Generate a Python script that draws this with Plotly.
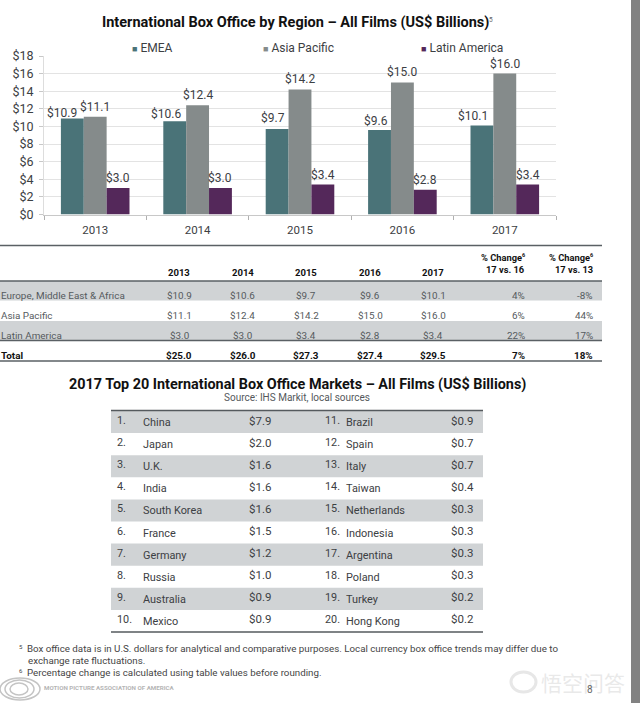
import plotly.graph_objects as go

W, H = 640, 703
FONT = "Roboto"
TXT = "#3c4043"
BLACK = "#111111"
TEAL, GREY, PURPLE = "#4a7378", "#858b8b", "#54285a"
ROW = "#d0d3d5"
LINE = "#5a6064"

years = ["2013", "2014", "2015", "2016", "2017"]
emea = [10.9, 10.6, 9.7, 9.6, 10.1]
asia = [11.1, 12.4, 14.2, 15.0, 16.0]
latam = [3.0, 3.0, 3.4, 2.8, 3.4]
totals = [25.0, 26.0, 27.3, 27.4, 29.5]

region_names = ["Europe, Middle East & Africa", "Asia Pacific", "Latin America", "Total"]
chg_1716 = ["4%", "6%", "22%", "7%"]
chg_1713 = ["-8%", "44%", "17%", "18%"]

mk_left = ["China", "Japan", "U.K.", "India", "South Korea", "France", "Germany", "Russia", "Australia", "Mexico"]
val_left = [7.9, 2.0, 1.6, 1.6, 1.6, 1.5, 1.2, 1.0, 0.9, 0.9]
mk_right = ["Brazil", "Spain", "Italy", "Taiwan", "Netherlands", "Indonesia", "Argentina", "Poland", "Turkey", "Hong Kong"]
val_right = [0.9, 0.7, 0.7, 0.4, 0.3, 0.3, 0.3, 0.3, 0.2, 0.2]

px = lambda x: x / W
py = lambda y: 1 - y / H
ann = []
shp = []


def T(x, y, s, size=10.5, color=TXT, anchor="left", bold=False, family=FONT):
    ann.append(dict(xref="paper", yref="paper", x=px(x), y=py(y), text=f"<b>{s}</b>" if bold else s,
                    showarrow=False, xanchor=anchor, yanchor="middle",
                    font=dict(size=size, color=color, family=family), borderpad=0, borderwidth=0))


def R(x0, y0, x1, y1, color, layer="below"):
    shp.append(dict(type="rect", xref="paper", yref="paper", x0=px(x0), x1=px(x1), y0=py(y0), y1=py(y1),
                    fillcolor=color, line_width=0, layer=layer))


def L(x0, x1, y, color=LINE, w=1.5):
    shp.append(dict(type="line", xref="paper", yref="paper", x0=px(x0), x1=px(x1), y0=py(y), y1=py(y),
                    line=dict(color=color, width=w)))


fig = go.Figure()
xs = list(range(len(years)))
for name, vals, col in [("EMEA", emea, TEAL), ("Asia Pacific", asia, GREY), ("Latin America", latam, PURPLE)]:
    fig.add_trace(go.Bar(x=xs, y=vals, name=name, marker=dict(color=col, line_width=0), showlegend=False))

# bar value labels
emea_dx = [-10, -8.5, -4, -3.5, -9]
emea_dy = [-3, -2, 2, 0, 1]
for i in xs:
    ann.append(dict(xref="x", yref="y", x=i - 0.223, y=emea[i], text=f"${emea[i]:.1f}", showarrow=False,
                    xanchor="center", yanchor="bottom", xshift=emea_dx[i], yshift=emea_dy[i],
                    font=dict(size=12, color=TXT, family=FONT)))
    ann.append(dict(xref="x", yref="y", x=i, y=asia[i], text=f"${asia[i]:.1f}", showarrow=False,
                    xanchor="center", yanchor="bottom", yshift=1,
                    font=dict(size=12, color=TXT, family=FONT)))
    ann.append(dict(xref="x", yref="y", x=i + 0.223, y=latam[i], text=f"${latam[i]:.1f}", showarrow=False,
                    xanchor="center", yanchor="bottom", yshift=1,
                    font=dict(size=12, color=TXT, family=FONT)))

# titles
T(295, 22, "International Box Office by Region – All Films (US$ Billions)", 14.5, BLACK, "center", True)
T(489, 20, "5", 6.5, "#666666")
T(297, 384, "2017 Top 20 International Box Office Markets – All Films (US$ Billions)", 14.4, BLACK, "center", True)
T(297, 397.5, "Source: IHS Markit, local sources", 10, "#55595c", "center")

# legend
for x, s, c in [(132, "EMEA", TEAL), (263, "Asia Pacific", GREY), (421, "Latin America", PURPLE)]:
    T(x, 48, f'<span style="color:{c};font-size:9px">■</span> {s}', 12)

# regional table
cols = [179, 242.5, 306, 370, 433]
L(0, 602, 245.5)
L(0, 602, 281)
L(0, 602, 340.5)
L(0, 602, 361)
R(0, 281, 602, 300.5, ROW)
R(0, 321, 602, 340, ROW)
for cx, y in zip(cols, years):
    T(cx, 272, y, 9.5, BLACK, "center", True)
for xr, lbl in [(525, "17 vs. 16"), (593, "17 vs. 13")]:
    T(xr - 3, 257, "% Change", 9.3, BLACK, "right", True)
    T(xr - 3, 255, "6", 5.5, BLACK, "left", True)
    T(xr, 269, lbl, 9.3, BLACK, "right", True)
rows_tbl = [emea, asia, latam, totals]
for r, (rname, vals) in enumerate(zip(region_names, rows_tbl)):
    y = 295.5 + r * 20
    b = r == 3
    c = BLACK if b else "#555a5d"
    T(1, y, rname, 9.9, c, "left", b)
    for cx, v in zip(cols, vals):
        T(cx, y, f"${v:.1f}", 9.9, c, "center", b)
    T(525, y, chg_1716[r], 9.9, c, "right", b)
    T(593, y, chg_1713[r], 9.9, c, "right", b)

# top 20 table
L(111, 483, 410.5, "#555a5e", 1.5)
L(111, 483, 632, "#555a5e", 1.5)
for r in range(10):
    top = 411 + r * 22.1
    if r % 2 == 0:
        R(111, top, 483, top + 22.1, ROW)
    y = top + 10.5
    T(117, y - 1, f"{r + 1}.", 10.8, TXT)
    T(143, y + 1, mk_left[r], 10.9, TXT)
    T(249, y - 1, f"${val_left[r]:.1f}", 11.5, TXT)
    T(325, y - 1, f"{r + 11}.", 10.8, TXT)
    T(346, y + 1, mk_right[r], 10.9, TXT)
    T(451, y - 1, f"${val_right[r]:.1f}", 11.5, TXT)

# footnotes
T(19, 646, "5", 6, "#444444")
T(26.5, 648, "Box office data is in U.S. dollars for analytical and comparative purposes. Local currency box office trends may differ due to", 9.75, "#444444")
T(28, 660.5, "exchange rate fluctuations.", 9.75, "#444444")
T(19, 670, "6", 6, "#444444")
T(26.5, 672, "Percentage change is calculated using table values before rounding.", 9.75, "#444444")

# logo and page furniture
for (x0, x1, y0, y1) in [(0, 40, 678, 700), (5, 34, 680, 698), (10, 28, 683, 695)]:
    shp.append(dict(type="circle", xref="paper", yref="paper", x0=px(x0), x1=px(x1), y0=py(y0), y1=py(y1),
                    line=dict(color="#c4c4c4", width=1.5)))
T(44, 688, "MOTION PICTURE ASSOCIATION OF AMERICA", 6.2, "#b5b5b5", "left", True)
shp.append(dict(type="circle", xref="paper", yref="paper", x0=px(511), x1=px(536), y0=py(672), y1=py(692),
                line=dict(color="rgba(215,215,215,0.6)", width=3)))
T(541, 682, "悟空问答", 21, "rgba(215,215,215,0.55)", "left", False, "Noto Sans CJK SC")
T(590, 689, "8", 10, "#666666", "center")
R(631, 0, 640, 703, "#828282", "above")

fig.update_layout(
    width=W, height=H, margin=dict(l=0, r=0, t=0, b=0, autoexpand=False), autosize=False,
    paper_bgcolor="white", plot_bgcolor="white", barmode="group", bargap=0.33, bargroupgap=0,
    font=dict(family=FONT, color=TXT),
    annotations=ann, shapes=shp,
    xaxis=dict(domain=[px(44), px(556)], range=[-0.5, 4.5], tickmode="array", tickvals=xs, ticktext=years,
               ticks="", showgrid=False, zeroline=False, showline=True, linecolor="#c8c8c8", linewidth=1,
               automargin=False, ticklabelstandoff=5, tickfont=dict(size=11.5, color=TXT),
               minor=dict(tickmode="array", tickvals=[-0.5, 0.5, 1.5, 2.5, 3.5, 4.5], ticks="outside",
                          ticklen=4, tickcolor="#b0b0b0", showgrid=False)),
    yaxis=dict(domain=[py(214.5), py(56)], range=[0, 18], tickmode="array", tickvals=list(range(0, 20, 2)),
               ticktext=[f"${v}" for v in range(0, 20, 2)], ticks="outside", ticklen=4, tickcolor="#c8c8c8",
               showgrid=True, gridcolor="#e3e3e3", gridwidth=1, zeroline=False, showline=True, linecolor="#dddddd",
               automargin=False, ticklabelstandoff=3, tickfont=dict(size=12.5, color=TXT)),
)
fig.write_html("out.html", config=dict(displayModeBar=False),
               post_script="document.body.style.margin='0';document.body.style.overflow='hidden';")
